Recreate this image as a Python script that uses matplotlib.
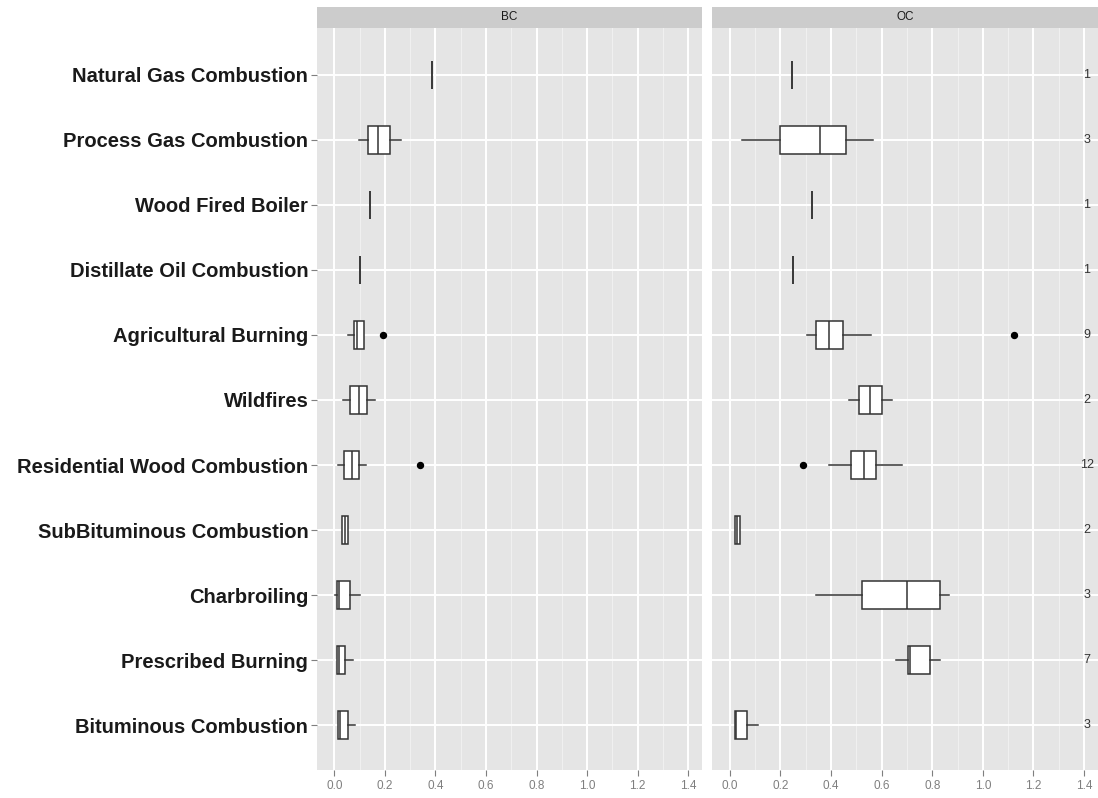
import numpy as np
import matplotlib
matplotlib.use('Agg')
import matplotlib.pyplot as plt

plt.rcParams['font.family'] = ['Liberation Sans', 'DejaVu Sans']

# categories, top to bottom
categories = ["Natural Gas Combustion", "Process Gas Combustion", "Wood Fired Boiler",
              "Distillate Oil Combustion", "Agricultural Burning", "Wildfires",
              "Residential Wood Combustion", "SubBituminous Combustion", "Charbroiling",
              "Prescribed Burning", "Bituminous Combustion"]
counts = [1, 3, 1, 1, 9, 2, 12, 2, 3, 7, 3]
panels = ["BC", "OC"]

# BC box stats
bc_whislo = [0.386, 0.099, 0.139, 0.101, 0.055, 0.035, 0.016, 0.029, 0.003, 0.012, 0.016]
bc_q1 = [0.386, 0.134, 0.139, 0.101, 0.078, 0.063, 0.039, 0.029, 0.009, 0.012, 0.016]
bc_med = [0.386, 0.174, 0.139, 0.101, 0.088, 0.097, 0.068, 0.042, 0.020, 0.018, 0.022]
bc_q3 = [0.386, 0.222, 0.139, 0.101, 0.118, 0.129, 0.096, 0.055, 0.062, 0.042, 0.055]
bc_whishi = [0.386, 0.262, 0.139, 0.101, 0.118, 0.160, 0.124, 0.055, 0.101, 0.075, 0.082]
bc_fliers = [[], [], [], [], [0.193], [], [0.338], [], [], [], []]

# OC box stats
oc_whislo = [0.246, 0.049, 0.326, 0.250, 0.304, 0.472, 0.393, 0.022, 0.341, 0.655, 0.020]
oc_q1 = [0.246, 0.198, 0.326, 0.250, 0.340, 0.512, 0.479, 0.022, 0.523, 0.704, 0.020]
oc_med = [0.246, 0.355, 0.326, 0.250, 0.393, 0.553, 0.529, 0.030, 0.701, 0.712, 0.026]
oc_q3 = [0.246, 0.459, 0.326, 0.250, 0.446, 0.602, 0.578, 0.040, 0.830, 0.791, 0.070]
oc_whishi = [0.246, 0.565, 0.326, 0.250, 0.559, 0.642, 0.679, 0.040, 0.867, 0.830, 0.112]
oc_fliers = [[], [], [], [], [1.122], [], [0.291], [], [], [], []]

xticks = [0.0, 0.2, 0.4, 0.6, 0.8, 1.0, 1.2, 1.4]


def make_stats(whislo, q1, med, q3, whishi, fliers):
    stats = []
    for i in range(len(med)):
        stats.append(dict(whislo=whislo[i], q1=q1[i], med=med[i], q3=q3[i],
                          whishi=whishi[i], fliers=fliers[i]))
    return stats


W, H = 1098, 798
fig = plt.figure(figsize=(W / 100, H / 100), dpi=100)

panel_px = [(316.7, 702.0), (712.0, 1098.0)]
top_px, bot_px = 28, 770
strip_top = 7

all_stats = [make_stats(bc_whislo, bc_q1, bc_med, bc_q3, bc_whishi, bc_fliers),
             make_stats(oc_whislo, oc_q1, oc_med, oc_q3, oc_whishi, oc_fliers)]

ypos = np.arange(len(categories), 0, -1)
edge = '#333333'

for k, (x0, x1) in enumerate(panel_px):
    ax = fig.add_axes([x0 / W, (H - bot_px) / H, (x1 - x0) / W, (bot_px - top_px) / H])
    ax.set_facecolor('#e5e5e5')
    for s in ax.spines.values():
        s.set_visible(False)
    ax.set_xlim(-0.07, 1.455)
    ax.set_ylim(0.31, 11.72)

    # grid
    for v in np.arange(0.1, 1.45, 0.2):
        ax.axvline(v, color='#f0f0f0', lw=0.8, zorder=0)
    for v in xticks:
        ax.axvline(v, color='white', lw=1.4, zorder=0)
    for y in ypos:
        ax.axhline(y, color='white', lw=1.4, zorder=0)

    ax.bxp(all_stats[k], positions=ypos, vert=False, widths=0.43, patch_artist=True,
           showcaps=False,
           boxprops=dict(facecolor='white', edgecolor=edge, linewidth=1.1),
           medianprops=dict(color=edge, linewidth=1.1),
           whiskerprops=dict(color=edge, linewidth=1.1),
           flierprops=dict(marker='o', markerfacecolor='black', markeredgecolor='black',
                           markersize=4.3), manage_ticks=False)

    ax.set_xticks(xticks)
    ax.set_xticklabels(['%.1f' % v for v in xticks], color='#7f7f7f', fontsize=8.5)
    ax.tick_params(axis='x', colors='#7f7f7f', length=4, width=0.8, pad=3)
    ax.tick_params(axis='x', labelcolor='#7f7f7f')

    if k == 0:
        ax.set_yticks(ypos)
        ax.set_yticklabels(categories, fontsize=14.5, fontweight='bold', color='#1a1a1a')
        ax.tick_params(axis='y', colors='#7f7f7f', length=4, width=0.8, pad=2)
        ax.tick_params(axis='y', labelcolor='#1a1a1a')
    else:
        ax.set_yticks([])
        for y, n in zip(ypos, counts):
            ax.text(1.41, y, str(n), ha='center', va='center', fontsize=9, color='#333333')

    # facet strip
    sax = fig.add_axes([x0 / W, (H - top_px) / H, (x1 - x0) / W, (top_px - strip_top) / H])
    sax.set_facecolor('#cccccc')
    sax.set_xticks([])
    sax.set_yticks([])
    for s in sax.spines.values():
        s.set_visible(False)
    sax.text(0.5, 0.5, panels[k], ha='center', va='center', fontsize=8.5,
             color='#1a1a1a', transform=sax.transAxes)

fig.savefig('out.png', dpi=100)
